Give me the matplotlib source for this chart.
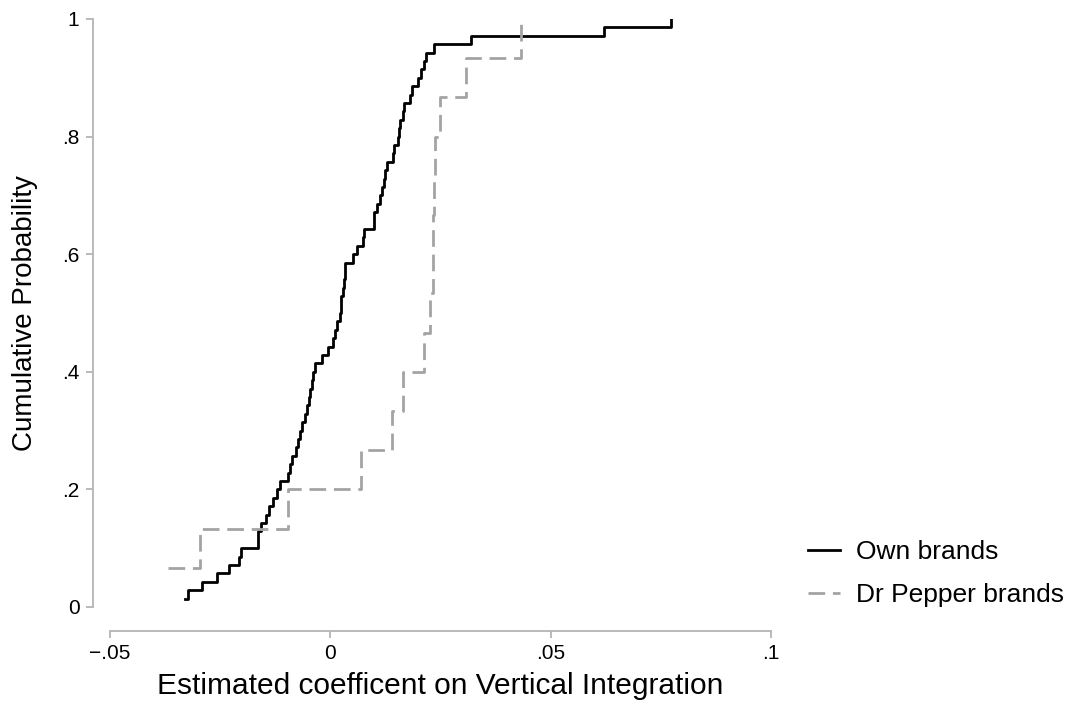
"""
Rozkład skumulowany oszacowanych współczynników (own brands vs Dr Pepper).
"""
import numpy as np
import matplotlib
matplotlib.use("Agg")
import matplotlib.pyplot as plt

# oszacowane współczynniki, posortowane
own_coef = [
    -0.0329, -0.0324, -0.0291, -0.0257, -0.0231, -0.0208, -0.0203, -0.0164,
    -0.0163, -0.0157, -0.0147, -0.0140, -0.0130, -0.0120, -0.0115, -0.0096,
    -0.0091, -0.0087, -0.0079, -0.0074, -0.0068, -0.0064, -0.0057, -0.0053,
    -0.0049, -0.0045, -0.0042, -0.0040, -0.0034, -0.0019, -0.0006, 0.0006,
    0.0011, 0.0015, 0.0021, 0.0024, 0.0025, 0.0029, 0.0030, 0.0033,
    0.0034, 0.0051, 0.0060, 0.0075, 0.0076, 0.0099, 0.0100, 0.0107,
    0.0112, 0.0118, 0.0121, 0.0125, 0.0129, 0.0143, 0.0144, 0.0154,
    0.0155, 0.0159, 0.0165, 0.0168, 0.0180, 0.0185, 0.0200, 0.0206,
    0.0212, 0.0216, 0.0236, 0.0320, 0.0620, 0.0774,
]
drp_coef = [
    -0.0368, -0.0295, -0.0095, 0.0070, 0.0141, 0.0166, 0.0213, 0.0227,
    0.0233, 0.0234, 0.0235, 0.0237, 0.0250, 0.0309, 0.0433,
]

series_labels = ["Own brands", "Dr Pepper brands"]
x_ticks = [-0.05, 0, 0.05, 0.1]
x_tick_labels = ["\u2212.05", "0", ".05", ".1"]
y_ticks = [0, 0.2, 0.4, 0.6, 0.8, 1]
y_tick_labels = ["0", ".2", ".4", ".6", ".8", "1"]

plt.rcParams["font.family"] = ["Liberation Sans", "DejaVu Sans"]
axis_gray = "#b4b4b4"


def ecdf(values):
    x = np.sort(np.asarray(values))
    y = np.arange(1, len(x) + 1) / len(x)
    return x, y


fig = plt.figure(figsize=(10.72, 7.03), dpi=100)
ax = fig.add_axes([0.1026, 0.1366, 0.6166, 0.8364])

x_own, y_own = ecdf(own_coef)
x_drp, y_drp = ecdf(drp_coef)

ax.plot(x_own, y_own, drawstyle="steps-post", color="black", lw=2.0,
        label=series_labels[0])
ax.plot(x_drp, y_drp, drawstyle="steps-post", color="#a3a3a3", lw=2.0,
        dashes=(6, 2.8), label=series_labels[1])

ax.set_xlim(-0.05, 0.1)
ax.set_ylim(0, 1)
ax.set_xticks(x_ticks)
ax.set_xticklabels(x_tick_labels)
ax.set_yticks(y_ticks)
ax.set_yticklabels(y_tick_labels)

for side in ["top", "right"]:
    ax.spines[side].set_visible(False)
ax.spines["left"].set_position(("outward", 12))
ax.spines["bottom"].set_position(("outward", 17))
for side in ["left", "bottom"]:
    ax.spines[side].set_color(axis_gray)
    ax.spines[side].set_linewidth(1.3)
ax.tick_params(axis="both", colors=axis_gray, length=5, width=1.3,
               labelcolor="black", labelsize=15, pad=5)

ax.set_xlabel("Estimated coefficent on Vertical Integration", fontsize=21.5,
              labelpad=6)
ax.set_ylabel("Cumulative Probability", fontsize=20, labelpad=17)

fig.legend(loc="lower left", bbox_to_anchor=(0.7415, 0.118), frameon=False,
           fontsize=19, handlelength=1.2, handletextpad=0.6,
           labelspacing=0.7, borderpad=0)

fig.savefig("out.png", dpi=100)
